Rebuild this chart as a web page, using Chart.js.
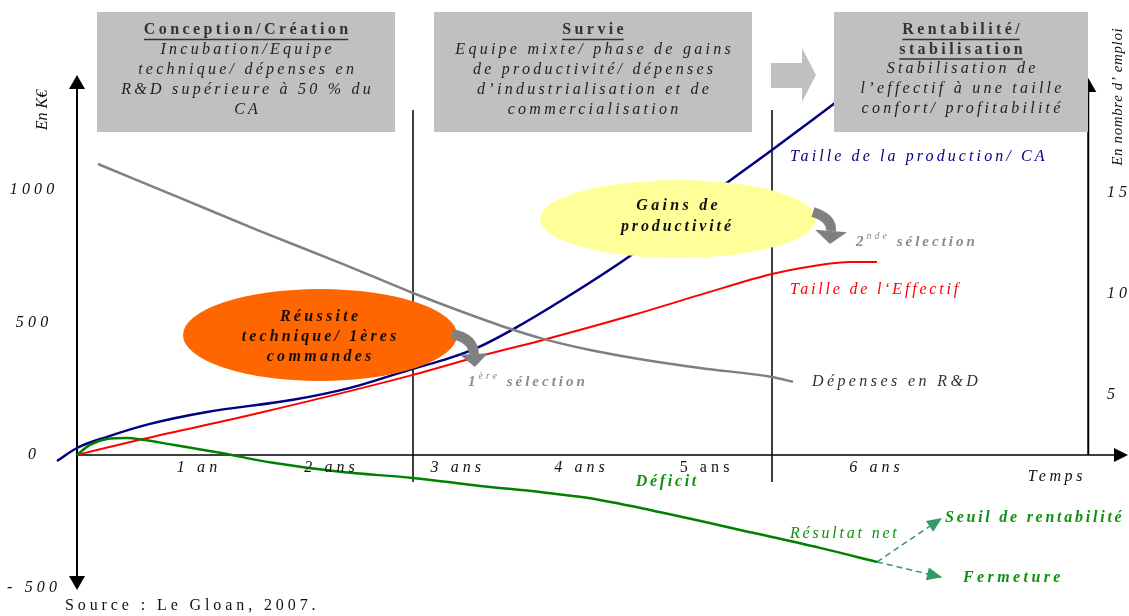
<!DOCTYPE html>
<html><head><meta charset="utf-8">
<script src="https://cdn.jsdelivr.net/npm/chart.js@4/dist/chart.umd.min.js"></script>
<style>html,body{margin:0;padding:0;background:#fff;overflow:hidden}#wrap{width:1129px;height:616px;position:relative}</style>
</head><body><div id="wrap"><canvas id="c" width="1129" height="616"></canvas></div>
<script>
// ---------- DATA (x in years, y in K€) ----------
const productionX = [-0.16, 0, 0.24, 0.584, 1.04, 1.728, 2.184, 2.688, 2.984, 3.2, 3.48, 3.92, 4.424, 4.824, 5.208, 5.56, 6.064];
const productionY = [-23, 26, 68, 117, 162, 208, 253, 325, 366, 404, 472, 596, 751, 891, 1030, 1151, 1328];
const effectifX = [0, 0.528, 1.464, 2.688, 3.168, 3.728, 4.448, 4.984, 5.56, 5.944, 6.184, 6.4];
const effectifY = [0, 60, 159, 302, 366, 434, 528, 604, 683, 717, 728, 728];
const rdX = [0.168, 0.824, 1.464, 2.104, 2.688, 3.064, 3.464, 3.728, 4.104, 4.448, 4.984, 5.56, 5.728];
const rdY = [1098, 970, 845, 725, 611, 543, 476, 438, 396, 366, 328, 294, 276];
const resultatX = [0, 0.104, 0.24, 0.4, 0.528, 0.768, 1.144, 1.568, 2.104, 2.688, 3.224, 3.704, 4.08, 4.584, 5.408, 5.944, 6.4];
const resultatY = [0, 38, 60, 64, 57, 38, 8, -30, -64, -87, -117, -140, -162, -208, -294, -351, -404];
const seuilX = [6.4, 6.92];  const seuilY = [-404, -238];
const fermetureX = [6.4, 6.92]; const fermetureY = [-404, -462];

const yearLabels = ['1 an', '2 ans', '3 ans', '4 ans', '5 ans', '6 ans'];
const yearLabelPos = [0.96, 2.02, 3.03, 4.02, 5.02, 6.38];
const leftTicks = [-500, 0, 500, 1000];
const leftTickText = ['- 500', '0', '500', '1000'];
const rightTicks = [5, 10, 15];
const phaseBounds = [2.688, 5.56];
const rightAxisX = 8.09;

const phaseTitles = [['Conception/Création'], ['Survie'], ['Rentabilité/', 'stabilisation']];
const phaseTexts = [
  ['Incubation/Equipe', 'technique/ dépenses en', 'R&D supérieure à 50 % du', 'CA'],
  ['Equipe mixte/ phase de gains', 'de productivité/ dépenses', 'd\u2019industrialisation et de', 'commercialisation'],
  ['Stabilisation de', 'l\u2019effectif à une taille', 'confort/ profitabilité']
];

const pts = (xs, ys) => xs.map((x, i) => ({x, y: ys[i]}));
const SERIF = '"Liberation Serif", "DejaVu Serif", serif';

function txt(ctx, s, x, y, font, color, align, spacing) {
  ctx.save();
  ctx.font = font; ctx.fillStyle = color; ctx.textAlign = 'left'; ctx.textBaseline = 'middle';
  ctx.letterSpacing = (spacing || 0) + 'px';
  const w = ctx.measureText(s).width - (spacing || 0);
  let sx = x;
  if (align === 'center') sx = x - w / 2; else if (align === 'right') sx = x - w;
  ctx.fillText(s, sx, y);
  ctx.restore();
  return {x: sx, w};
}
function segText(ctx, segs, x, y, color, spacing) {
  ctx.save(); ctx.fillStyle = color; ctx.textBaseline = 'middle'; ctx.textAlign = 'left';
  ctx.letterSpacing = spacing + 'px';
  let cx = x;
  for (const s of segs) { ctx.font = s.font; ctx.fillText(s.t, cx, y + (s.dy || 0)); cx += ctx.measureText(s.t).width; }
  ctx.restore();
}
function tri(ctx, tx, ty, dx, dy, len, wid, color) {
  const n = Math.hypot(dx, dy); dx /= n; dy /= n;
  const bx = tx - dx * len, by = ty - dy * len;
  ctx.beginPath(); ctx.moveTo(tx, ty);
  ctx.lineTo(bx - dy * wid / 2, by + dx * wid / 2);
  ctx.lineTo(bx + dy * wid / 2, by - dx * wid / 2);
  ctx.closePath(); ctx.fillStyle = color; ctx.fill();
}
function curvedArrow(ctx, s, c, e, tipLen, headW) {
  ctx.save(); ctx.strokeStyle = '#808080'; ctx.lineWidth = 10; ctx.lineCap = 'butt';
  ctx.beginPath(); ctx.moveTo(s[0], s[1]); ctx.quadraticCurveTo(c[0], c[1], e[0], e[1]); ctx.stroke();
  const dx = e[0] - c[0], dy = e[1] - c[1]; const n = Math.hypot(dx, dy);
  tri(ctx, e[0] + dx / n * tipLen, e[1] + dy / n * tipLen, dx, dy, tipLen, headW, '#808080');
  ctx.restore();
}

const decor = {
  id: 'decor',
  beforeDatasetsDraw(chart) {
    const ctx = chart.ctx, xs = chart.scales.x, ys = chart.scales.y, ca = chart.chartArea;
    const x0 = xs.getPixelForValue(0), y0 = ys.getPixelForValue(0);
    const xr = xs.getPixelForValue(rightAxisX);
    ctx.save(); ctx.strokeStyle = '#000'; ctx.lineWidth = 2;
    ctx.beginPath(); ctx.moveTo(x0, ca.top + 12); ctx.lineTo(x0, ca.bottom - 12); ctx.stroke();
    tri(ctx, x0, ca.top, 0, -1, 14, 16, '#000');
    tri(ctx, x0, ca.bottom, 0, 1, 14, 16, '#000');
    ctx.lineWidth = 1.5;
    ctx.beginPath(); ctx.moveTo(x0, y0); ctx.lineTo(ca.right - 12, y0); ctx.stroke();
    tri(ctx, ca.right, y0, 1, 0, 14, 14, '#000');
    ctx.lineWidth = 2;
    ctx.beginPath(); ctx.moveTo(xr, y0); ctx.lineTo(xr, ca.top + 14); ctx.stroke();
    tri(ctx, xr, ca.top + 3, 0, -1, 14, 16, '#000');
    ctx.lineWidth = 1.5;
    for (const b of phaseBounds) {
      const px = xs.getPixelForValue(b);
      ctx.beginPath(); ctx.moveTo(px, 110); ctx.lineTo(px, 482); ctx.stroke();
    }
    ctx.restore();
  },
  afterDatasetsDraw(chart) {
    const ctx = chart.ctx, xs = chart.scales.x, ys = chart.scales.y, y2 = chart.scales.y2;
    const boxes = [[97, 12, 298, 120], [434, 12, 318, 120], [834, 12, 254, 120]];
    ctx.save(); ctx.fillStyle = '#c0c0c0';
    boxes.forEach(b => ctx.fillRect(b[0], b[1], b[2], b[3]));
    ctx.beginPath(); ctx.moveTo(771, 63); ctx.lineTo(802, 63); ctx.lineTo(802, 48); ctx.lineTo(816, 75);
    ctx.lineTo(802, 102); ctx.lineTo(802, 88); ctx.lineTo(771, 88); ctx.closePath(); ctx.fill();
    ctx.restore();
    boxes.forEach((b, i) => {
      const cx = b[0] + b[2] / 2; let y = 30;
      phaseTitles[i].forEach(t => {
        const r = txt(ctx, t, cx, y, 'bold 16px ' + SERIF, '#333', 'center', 3.4);
        ctx.save(); ctx.strokeStyle = '#333'; ctx.lineWidth = 1.3;
        ctx.beginPath(); ctx.moveTo(r.x, y + 9.5); ctx.lineTo(r.x + r.w, y + 9.5); ctx.stroke(); ctx.restore();
        y += 19.5;
      });
      phaseTexts[i].forEach(t => { txt(ctx, t, cx, y, 'italic 16px ' + SERIF, '#222', 'center', 3.25); y += 20; });
    });
    ctx.save();
    ctx.fillStyle = '#ff6600'; ctx.beginPath(); ctx.ellipse(320, 335, 137, 46, 0, 0, Math.PI * 2); ctx.fill();
    ctx.fillStyle = '#ffff99'; ctx.beginPath(); ctx.ellipse(678, 219, 138, 39, 0, 0, Math.PI * 2); ctx.fill();
    ctx.restore();
    const bi = 'bold italic 16px ' + SERIF;
    txt(ctx, 'Réussite', 319, 317, bi, '#111', 'center', 3.3);
    txt(ctx, 'technique/ 1ères', 319, 337, bi, '#111', 'center', 3.1);
    txt(ctx, 'commandes', 319, 357, bi, '#111', 'center', 3.3);
    txt(ctx, 'Gains de', 677, 206, bi, '#111', 'center', 3.3);
    txt(ctx, 'productivité', 676, 227, bi, '#111', 'center', 2.9);
    curvedArrow(ctx, [452, 334], [473, 338], [474, 354], 13, 28);
    curvedArrow(ctx, [813, 212], [832, 218], [831, 231], 13, 32);
    const dsHead = (X, Y) => {
      const sx = xs.getPixelForValue(X[0]), sy = ys.getPixelForValue(Y[0]);
      const ex = xs.getPixelForValue(X[1]), ey = ys.getPixelForValue(Y[1]);
      tri(ctx, ex, ey, ex - sx, ey - sy, 15, 13, '#339966');
    };
    dsHead(seuilX, seuilY); dsHead(fermetureX, fermetureY);
    const it = 'italic 16px ' + SERIF;
    leftTicks.forEach((v, i) => txt(ctx, leftTickText[i], 32, ys.getPixelForValue(v), it, '#111', 'center', 4.2));
    rightTicks.forEach(v => txt(ctx, String(v), 1107, y2.getPixelForValue(v), it, '#111', 'left', 4));
    yearLabels.forEach((s, i) => {
      const f = s === '5 ans' ? '16px ' + SERIF : it;
      txt(ctx, s, xs.getPixelForValue(yearLabelPos[i]), 468, f, '#111', 'center', 4.1);
    });
    txt(ctx, 'Temps', 1055, 477, it, '#111', 'center', 3.6);
    ctx.save(); ctx.translate(43, 110); ctx.rotate(-Math.PI / 2);
    txt(ctx, 'En K€', 0, 0, it, '#111', 'center', 0); ctx.restore();
    ctx.save(); ctx.translate(1118, 97); ctx.rotate(-Math.PI / 2);
    txt(ctx, 'En nombre d\u2019 emploi', 0, 0, 'italic 15px ' + SERIF, '#111', 'center', 0.6); ctx.restore();
    txt(ctx, 'Taille de la production/ CA', 790, 157, it, '#000080', 'left', 3.1);
    txt(ctx, 'Taille de l\u2018Effectif', 790, 290, it, '#ff0000', 'left', 2.8);
    txt(ctx, 'Dépenses en R&D', 812, 382, it, '#333', 'left', 3.4);
    txt(ctx, 'Déficit', 666, 482, bi, '#119011', 'center', 2.7);
    txt(ctx, 'Résultat net', 790, 534, it, '#119011', 'left', 2.8);
    txt(ctx, 'Seuil de rentabilité', 945, 518, bi, '#119011', 'left', 2.75);
    txt(ctx, 'Fermeture', 963, 578, bi, '#119011', 'left', 3.4);
    segText(ctx, [{t: '1', font: 'bold italic 15px ' + SERIF}, {t: 'ère', font: 'italic 10px ' + SERIF, dy: -6}, {t: ' sélection', font: 'bold italic 15px ' + SERIF}], 468, 382, '#8c8c8c', 3.0);
    segText(ctx, [{t: '2', font: 'bold italic 15px ' + SERIF}, {t: 'nde', font: 'italic 10px ' + SERIF, dy: -6}, {t: ' sélection', font: 'bold italic 15px ' + SERIF}], 856, 242, '#8c8c8c', 3.0);
    txt(ctx, 'Source : Le Gloan, 2007.', 65, 606, '16px ' + SERIF, '#111', 'left', 3.9);
  }
};

const line = (data, color, w, extra) => Object.assign({
  data, borderColor: color, borderWidth: w, pointRadius: 0, fill: false,
  tension: 0.4, cubicInterpolationMode: 'monotone'
}, extra || {});

new Chart(document.getElementById('c'), {
  type: 'line',
  data: {
    datasets: [
      line(pts(rdX, rdY), '#808080', 2.5),
      line(pts(resultatX, resultatY), '#008000', 2.5),
      line(pts(effectifX, effectifY), '#ff0000', 2),
      line(pts(productionX, productionY), '#000080', 2.5),
      line(pts(seuilX, seuilY), '#339966', 1.5, {borderDash: [6, 4], tension: 0, cubicInterpolationMode: 'default'}),
      line(pts(fermetureX, fermetureY), '#339966', 1.5, {borderDash: [6, 4], tension: 0, cubicInterpolationMode: 'default'})
    ]
  },
  options: {
    responsive: false, animation: false, devicePixelRatio: 1,
    layout: {padding: {left: 52, right: 1, top: 75, bottom: 26}},
    plugins: {legend: {display: false}, tooltip: {enabled: false}},
    scales: {
      x: {type: 'linear', min: -0.2, max: 8.408, display: false},
      y: {type: 'linear', min: -510, max: 1434, display: false},
      y2: {type: 'linear', position: 'right', min: -4.65, max: 20.84, display: false}
    }
  },
  plugins: [decor]
});
</script></body></html>
